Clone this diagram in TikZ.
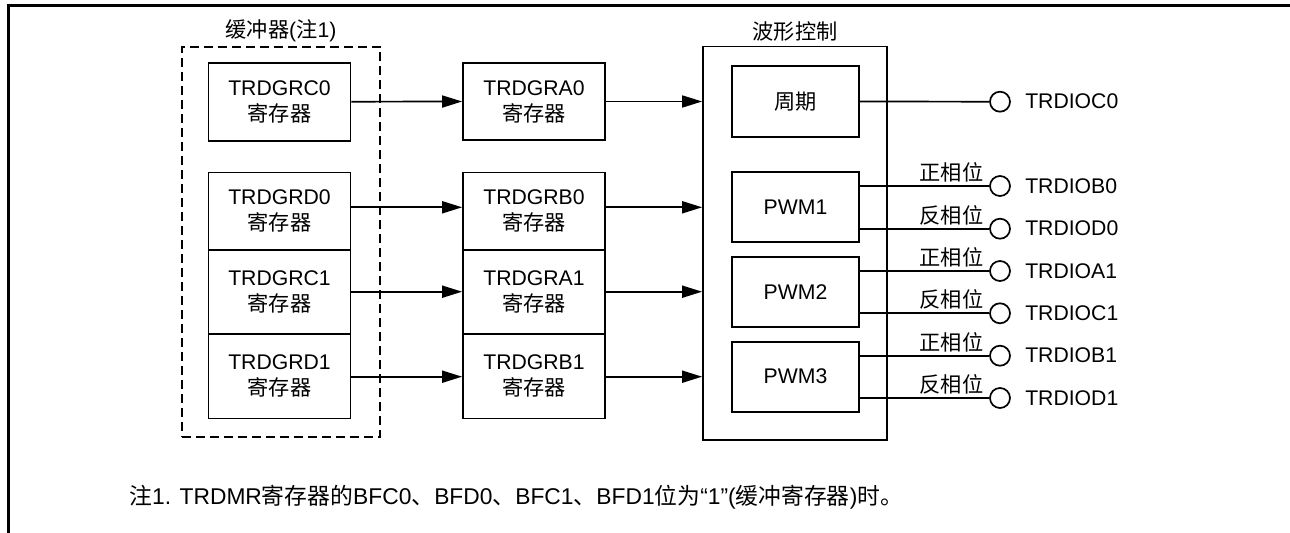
\documentclass[tikz,border=0pt]{standalone}
\usepackage{fontspec}
\setmainfont{Liberation Sans}
\newfontfamily\cjk{Noto Sans CJK SC}
\newcommand{\zh}[1]{{\cjk #1}}
\usetikzlibrary{arrows.meta}
\usetikzlibrary{positioning}

\begin{document}
\begin{tikzpicture}[
            x=0.5pt, y=-0.5pt,
            font=\fontsize{10.6}{13}\selectfont,
            frameline/.style={line width=1.5pt},
            thinline/.style={line width=0.85pt},
            flow/.style={thinline, -{Triangle[length=10pt, width=6pt]}},
            regbox/.style={draw, thinline, align=center, inner sep=0pt, minimum width=71pt},
            subbox/.style={draw, thinline, align=center, inner sep=0pt, minimum width=63.5pt, minimum height=35pt},
            bufbox/.style={draw, thinline, dash pattern=on 4.5pt off 2.5pt, inner sep=0pt},
            wavebox/.style={draw, thinline, inner sep=0pt},
            titlenode/.style={above, inner sep=2pt},
            padc/.style={draw, thinline, circle, inner sep=0pt, minimum size=10pt},
            padlabel/.style={inner sep=1pt},
            phaselabel/.style={anchor=south east, inner sep=1.5pt, xshift=-1pt}
        ]
            \useasboundingbox (0,0) rectangle (1290,533);

            % frame
            \draw[frameline] (8.5,533) -- (8.5,5.5) -- (1290,5.5);

            % buffer registers
            \node[bufbox, minimum width=99pt, minimum height=195.3pt] (buf) at (281,242) {};
            \node[titlenode] at (buf.north) {\zh{缓冲器}(\zh{注}1)};
            \node[regbox, minimum height=39pt] (gc0) at (279.5,101.7) {TRDGRC0\\\zh{寄存器}};
            \node[regbox, minimum height=38.7pt] (gd0) at (279.5,211.3) {TRDGRD0\\\zh{寄存器}};
            \node[regbox, minimum height=42pt] (gc1) at (279.5,292) {TRDGRC1\\\zh{寄存器}};
            \node[regbox, minimum height=42.3pt] (gd1) at (279.5,376.3) {TRDGRD1\\\zh{寄存器}};

            % general registers
            \node[regbox, minimum height=38.5pt] (ga0) at (534,101.5) {TRDGRA0\\\zh{寄存器}};
            \node[regbox, minimum height=38.7pt] (gb0) at (534,211.3) {TRDGRB0\\\zh{寄存器}};
            \node[regbox, minimum height=42pt] (ga1) at (534,292) {TRDGRA1\\\zh{寄存器}};
            \node[regbox, minimum height=42.3pt] (gb1) at (534,376.3) {TRDGRB1\\\zh{寄存器}};

            % waveform control
            \node[wavebox, minimum width=92pt, minimum height=196.7pt] (wave) at (795,243.3) {};
            \node[titlenode] at (wave.north) {\zh{波形控制}};
            \node[subbox, minimum height=35.5pt] (period) at (795.5,101.5) {\zh{周期}};
            \node[subbox] (pwm1) at (795.5,207.3) {PWM1};
            \node[subbox] (pwm2) at (795.5,291.7) {PWM2};
            \node[subbox] (pwm3) at (795.5,376.7) {PWM3};

            % transfers
            \draw[flow] (gc0.east) -- (ga0.west);
            \draw[flow] (gd0.east |- pwm1) -- (gb0.west |- pwm1);
            \draw[flow] (gc1.east |- pwm2) -- (ga1.west |- pwm2);
            \draw[flow] (gd1.east |- pwm3) -- (gb1.west |- pwm3);
            \draw[flow] (ga0.east) -- (wave.west |- ga0);
            \draw[flow] (gb0.east |- pwm1) -- (wave.west |- pwm1);
            \draw[flow] (ga1.east |- pwm2) -- (wave.west |- pwm2);
            \draw[flow] (gb1.east |- pwm3) -- (wave.west |- pwm3);

            % output pins
            \node[padc] (padC0) at (1000,101.7) {};
            \node[padlabel, right=6pt of padC0] {TRDIOC0};
            \draw[thinline] (period.east) -- (padC0.west);
            \foreach \pwm/\padp/\padn/\ya/\yb in {pwm1/B0/D0/186/228.7, pwm2/A1/C1/271/313.3, pwm3/B1/D1/355.7/398}{
                \node[padc] (pad\padp) at (1000,\ya) {};
                \node[padc] (pad\padn) at (1000,\yb) {};
                \node[padlabel, right=6pt of pad\padp] {TRDIO\padp};
                \node[padlabel, right=6pt of pad\padn] {TRDIO\padn};
                \draw[thinline] (\pwm.east |- pad\padp) -- node[phaselabel, pos=1] {\zh{正相位}} (pad\padp.west);
                \draw[thinline] (\pwm.east |- pad\padn) -- node[phaselabel, pos=1] {\zh{反相位}} (pad\padn.west);
            }

            % note
            \node[anchor=west, inner sep=0pt, font=\fontsize{11.4}{13}\selectfont] (note) at (129,497)
                {\zh{注}1. TRDMR\zh{寄存器的}BFC0\zh{、}BFD0\zh{、}BFC1\zh{、}BFD1\zh{位为}“1”(\zh{缓冲寄存器})\zh{时。}};

        \end{tikzpicture}
\end{document}
